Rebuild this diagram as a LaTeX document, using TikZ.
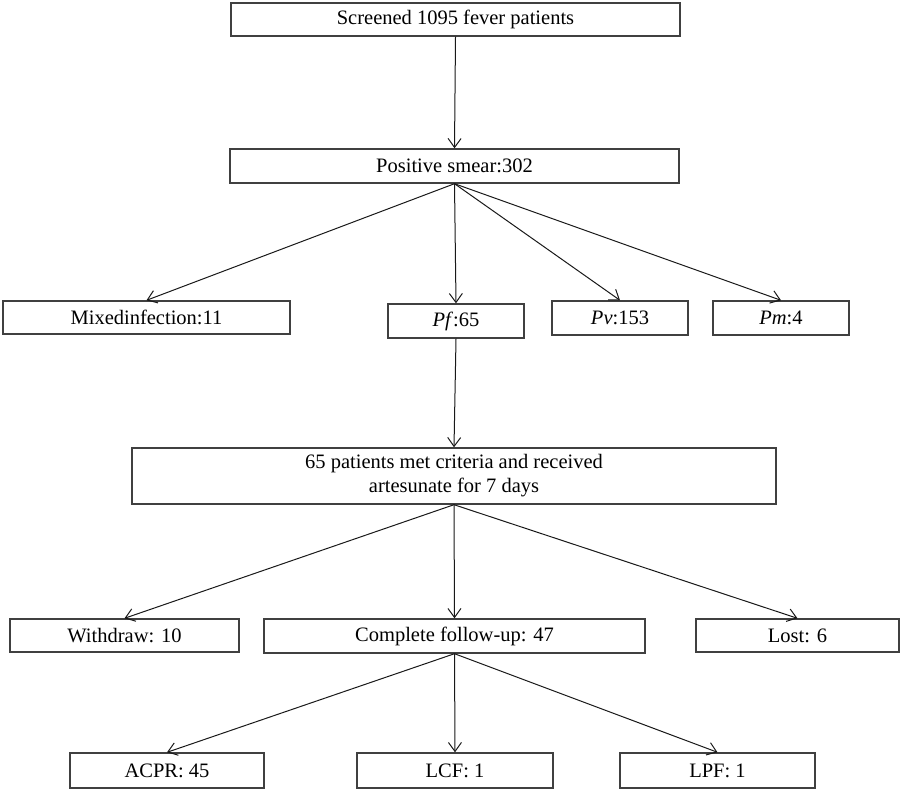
\documentclass[tikz,border=0pt]{standalone}
\usepackage{fontspec}
\setmainfont{Liberation Serif}
\usetikzlibrary{arrows.meta}
\begin{document}
\begin{tikzpicture}[x=1pt,y=-1pt,
  box/.style={draw=black!75,line width=1.4pt,rectangle,inner sep=0pt,align=center,
    font=\fontsize{20.5}{24}\selectfont},
  arr/.style={draw=black!90,line width=1pt,-{Straight Barb[length=9pt,width=13pt,line width=1pt]}}]
\useasboundingbox (0,0) rectangle (901,789);
\node[box,minimum width=449pt,minimum height=33pt] (s) at (455.5,19.5) {Screened 1095 fever patients};
\node[box,minimum width=449pt,minimum height=34pt] (pos) at (454.5,166) {Positive smear:302};
\node[box,minimum width=287pt,minimum height=33pt] (mix) at (146.5,317.5) {Mixedinfection:11};
\node[box,minimum width=136pt,minimum height=34pt] (pf) at (456,321) {\textit{Pf}:65};
\node[box,minimum width=136pt,minimum height=34pt] (pv) at (620,318) {\textit{Pv}:153};
\node[box,minimum width=136pt,minimum height=34pt] (pm) at (781,318) {\textit{Pm}:4};
\node[box,minimum width=644pt,minimum height=56pt] (big) at (454,476) {65 patients met criteria and received\\artesunate for 7 days};
\node[box,minimum width=229pt,minimum height=33pt] (wd) at (124.5,635.5) {Withdraw: 10};
\node[box,minimum width=381pt,minimum height=34pt] (cf) at (454.5,636) {Complete follow-up: 47};
\node[box,minimum width=203pt,minimum height=33pt] (lost) at (797.5,635.5) {Lost: 6};
\node[box,minimum width=194pt,minimum height=35pt] (acpr) at (167,770.5) {ACPR: 45};
\node[box,minimum width=196pt,minimum height=35pt] (lcf) at (455,770.5) {LCF: 1};
\node[box,minimum width=195pt,minimum height=35pt] (lpf) at (717.5,770.5) {LPF: 1};
\draw[arr] (s.south) -- (pos.south |- pos.north);
\draw[arr] (pos.south) -- (mix.north);
\draw[arr] (pos.south) -- (pf.north);
\draw[arr] (pos.south) -- (pv.north);
\draw[arr] (pos.south) -- (pm.north);
\draw[arr] (pf.south) -- (big.north);
\draw[arr] (big.south) -- (wd.north);
\draw[arr] (big.south) -- (cf.north);
\draw[arr] (big.south) -- (lost.north);
\draw[arr] (cf.south) -- (acpr.north);
\draw[arr] (cf.south) -- (lcf.north);
\draw[arr] (cf.south) -- (lpf.north);
\end{tikzpicture}
\end{document}
